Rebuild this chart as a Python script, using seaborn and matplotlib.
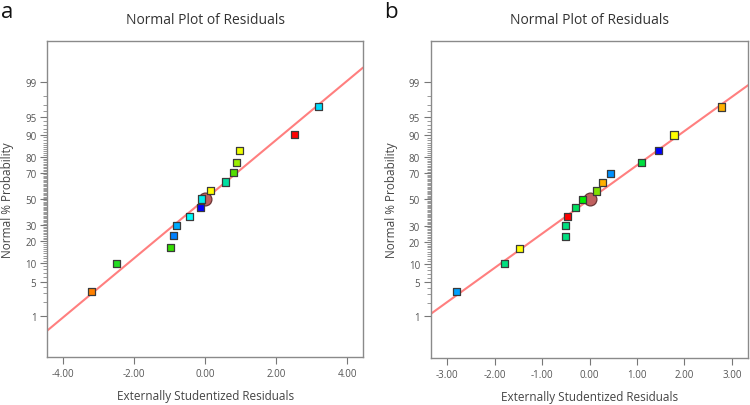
import numpy as np
import matplotlib
matplotlib.use("Agg")
import matplotlib.pyplot as plt
import seaborn as sns
from statistics import NormalDist

# ─── Data ─────────────────────────────────────────────────────────────────────
prob_pct = [3.3, 10, 16.7, 23.3, 30, 36.7, 43.3, 50, 56.7, 63.3, 70, 76.7, 83.3, 90, 96.7]

resid_a = [-3.19, -2.49, -0.98, -0.90, -0.81, -0.45, -0.13, -0.11, 0.14, 0.58,
           0.80, 0.88, 0.975, 2.50, 3.19]
colors_a = ["#ff8000", "#22dd22", "#33dd00", "#0080ff", "#00aaff", "#00ffff",
            "#0000ff", "#00eeee", "#ffff00", "#00e0a0", "#55dd00", "#99ee00",
            "#eeff00", "#ff0000", "#00ddff"]

resid_b = [-2.81, -1.79, -1.48, -0.51, -0.51, -0.46, -0.30, -0.15, 0.14, 0.28,
           0.445, 1.10, 1.46, 1.78, 2.79]
colors_b = ["#00a0ff", "#00e080", "#ffff00", "#00e080", "#00e080", "#ff0000",
            "#00e060", "#00ee00", "#80e000", "#ffb000", "#0090ff", "#00e040",
            "#0000ff", "#ffff00", "#ffb000"]

line_slope = [0.59, 0.68]       # fitted line, z per unit residual
x_limits = [4.44, 3.34]
x_ticks = [[-4, -2, 0, 2, 4], [-3, -2, -1, 0, 1, 2, 3]]
major_pct = [1, 5, 10, 20, 30, 50, 70, 80, 90, 95, 99]
panel_letters = ["a", "b"]

# ─── Styling ──────────────────────────────────────────────────────────────────
sns.set_theme(style="white")
plt.rcParams["font.family"] = ["Open Sans", "DejaVu Sans"]

nd = NormalDist()
z = lambda p: nd.inv_cdf(p / 100.0)

fig = plt.figure(figsize=(7.5, 4.06), dpi=100)
axes = [fig.add_axes([0.0633, 0.1182, 0.4207, 0.7783]),
        fig.add_axes([0.5747, 0.1160, 0.4227, 0.7805])]

panels = [(resid_a, colors_a), (resid_b, colors_b)]
for i, (ax, (resid, cols)) in enumerate(zip(axes, panels)):
    yz = [z(p) for p in prob_pct]
    ax.axline((0, 0), slope=line_slope[i], color="#ff7f7f", lw=1.5, zorder=1)
    sns.scatterplot(x=resid, y=yz, hue=[str(k) for k in range(len(resid))],
                    palette=cols, marker="s", s=26, edgecolor="#3a3a3a",
                    linewidth=0.9, legend=False, ax=ax, zorder=3)
    # centre point
    sns.scatterplot(x=[0], y=[0], color="#c0605f", s=85, edgecolor="#6a3535",
                    linewidth=0.9, legend=False, ax=ax, zorder=2)

    ax.set_xlim(-x_limits[i], x_limits[i])
    ax.set_ylim(-3.15, 3.15)
    ax.set_xticks(x_ticks[i])
    ax.set_xticklabels([f"{t:.2f}" for t in x_ticks[i]])
    ax.set_yticks([z(p) for p in major_pct])
    ax.set_yticklabels([str(p) for p in major_pct])
    minor = [z(p) for p in range(2, 99) if p not in major_pct]
    ax.set_yticks(minor, minor=True)
    ax.tick_params(axis="both", which="major", direction="out", length=5,
                   width=0.8, color="#777777", labelsize=7, labelcolor="#555555",
                   pad=3, left=True, bottom=True)
    ax.tick_params(axis="y", which="minor", direction="out", length=3,
                   width=0.6, color="#888888", left=True)
    for sp in ax.spines.values():
        sp.set_color("#8a8a8a")
        sp.set_linewidth(1.0)
    ax.set_title("Normal Plot of Residuals", fontsize=10, color="#333333", pad=13)
    ax.set_xlabel("Externally Studentized Residuals", fontsize=8.5,
                  color="#444444", labelpad=7)
    ax.set_ylabel("Normal % Probability", fontsize=8.5, color="#444444",
                  labelpad=8)
    ax.grid(False)

fig.text(0.002, 0.995, panel_letters[0], fontsize=16, va="top", ha="left", color="#111111")
fig.text(0.512, 0.995, panel_letters[1], fontsize=16, va="top", ha="left", color="#111111")

fig.savefig("out.png", dpi=100)
